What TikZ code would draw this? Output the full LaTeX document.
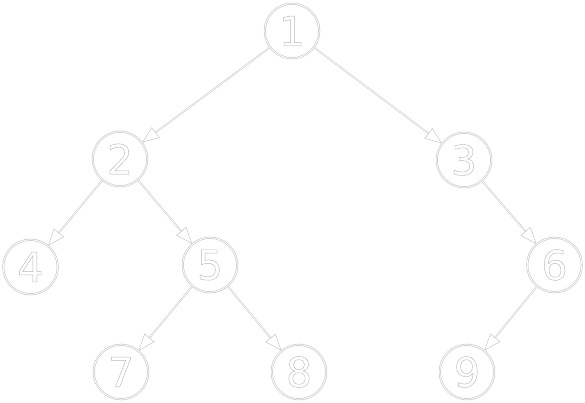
\documentclass[tikz,border=0pt]{standalone}
\usepackage{fontspec}
\setmainfont{DejaVu Sans}
\usetikzlibrary{arrows.meta}
\newcommand\hollow[1]{\special{pdf:literal direct 1 Tr 0.45 w}#1\special{pdf:literal direct 0 Tr}}
\tikzset{vertex/.style = {circle, draw = gray!45, double = white, double distance = 0.8pt,
                          line width = 0.6pt, minimum size = 54.5pt, inner sep = 0pt,
                          text = gray!55, font = \fontsize{41}{41}\selectfont},
         edge/.style = {draw = gray!45, double = white, double distance = 0.6pt, line width = 0.5pt,
                        -{Triangle[open, length = 17pt, width = 13pt]}}}

\begin{document}
\begin{tikzpicture}[x = 1pt, y = -1pt]
    \useasboundingbox (0,0) rectangle (585,403);
    \node [vertex] (n1) at (292,31) {\hollow{1}};
    \node [vertex] (n2) at (120,159) {\hollow{2}};
    \node [vertex] (n3) at (464,160) {\hollow{3}};
    \node [vertex] (n4) at (30.5,267) {\hollow{4}};
    \node [vertex] (n5) at (210,265) {\hollow{5}};
    \node [vertex] (n6) at (554.5,265) {\hollow{6}};
    \node [vertex] (n7) at (121,372) {\hollow{7}};
    \node [vertex] (n8) at (299,372) {\hollow{8}};
    \node [vertex] (n9) at (467,372) {\hollow{9}};
    \draw [edge] (n1) -- (n2);
    \draw [edge] (n1) -- (n3);
    \draw [edge] (n2) -- (n4);
    \draw [edge] (n2) -- (n5);
    \draw [edge] (n3) -- (n6);
    \draw [edge] (n5) -- (n7);
    \draw [edge] (n5) -- (n8);
    \draw [edge] (n6) -- (n9);
\end{tikzpicture}
\end{document}
